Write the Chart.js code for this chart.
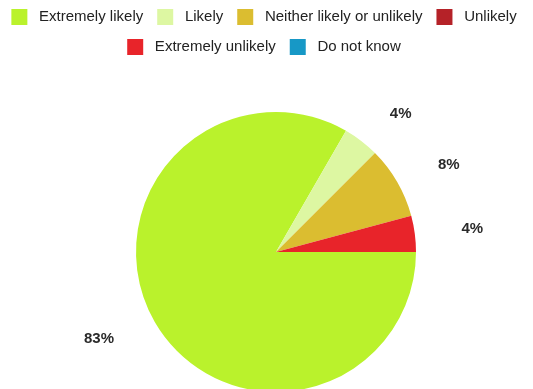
<!DOCTYPE html>
<html>
<head>
<meta charset="utf-8">
<script src="https://cdn.jsdelivr.net/npm/chart.js@4"></script>
<style>
html,body{margin:0;padding:0;background:#fff;overflow:hidden;}
#wrap{width:533px;height:396px;position:relative;}
</style>
</head>
<body>
<div id="wrap"><canvas id="c"></canvas></div>
<script>
const categories = ["Extremely likely", "Likely", "Neither likely or unlikely", "Unlikely", "Extremely unlikely", "Do not know"];
const responses = [20, 1, 2, 0, 1, 0];
const sliceColors = ["#baf22c", "#ddf7a2", "#dbbd30", "#b52228", "#e8242a", "#1798c6"];

const legendGap = {
  id: 'legendGap',
  beforeInit(chart) {
    const lg = chart.legend;
    const origFit = lg.fit;
    lg.fit = function () {
      const mw = this.maxWidth;
      this.maxWidth = mw + 80;
      origFit.call(this);
      this.maxWidth = mw;
      this.width = Math.min(this.width, mw);
      this.height += 42;
    };
    const origDraw = lg.draw;
    lg.draw = function () {
      const l = this.left, r = this.right, t = this.top;
      this.left = l - 52; this.right = r + 28; this.top = t - 5;
      origDraw.call(this);
      this.left = l; this.right = r; this.top = t;
    };
  }
};

const pctLabels = {
  id: 'pctLabels',
  afterDatasetsDraw(chart) {
    const ctx = chart.ctx;
    const meta = chart.getDatasetMeta(0);
    const data = chart.data.datasets[0].data;
    const total = data.reduce((a, b) => a + b, 0);
    ctx.save();
    ctx.font = 'bold 15px "Liberation Sans", Arial, sans-serif';
    ctx.fillStyle = '#2a2a2a';
    ctx.textBaseline = 'middle';
    meta.data.forEach((arc, i) => {
      if (!data[i]) return;
      const p = arc.getProps(['x', 'y', 'startAngle', 'endAngle', 'outerRadius'], true);
      const mid = (p.startAngle + p.endAngle) / 2;
      const r = p.outerRadius * 1.336;
      const c = Math.cos(mid), s = Math.sin(mid);
      ctx.textAlign = c >= 0 ? 'left' : 'right';
      const txt = Math.round(data[i] / total * 100) + '%';
      ctx.fillText(txt, p.x + c * r, p.y + s * r * 0.93);
    });
    ctx.restore();
  }
};

new Chart(document.getElementById('c'), {
  type: 'pie',
  data: {
    labels: categories,
    datasets: [{
      data: responses,
      backgroundColor: sliceColors,
      borderWidth: 0
    }]
  },
  options: {
    responsive: true,
    maintainAspectRatio: false,
    animation: false,
    rotation: 90,
    layout: { padding: { left: 19, right: 0, top: 0, bottom: 4 } },
    plugins: {
      tooltip: { enabled: false },
      legend: {
        position: 'top',
        labels: {
          boxWidth: 16,
          boxHeight: 16,
          padding: 14,
          color: '#222',
          font: { family: '"Liberation Sans", Arial, sans-serif', size: 15 },
          generateLabels(chart) {
            const items = Chart.controllers.pie.overrides.plugins.legend.labels.generateLabels(chart);
            items.forEach(it => { it.text = ' ' + it.text; it.lineWidth = 0; });
            return items;
          }
        }
      }
    }
  },
  plugins: [pctLabels, legendGap]
});
</script>
</body>
</html>
